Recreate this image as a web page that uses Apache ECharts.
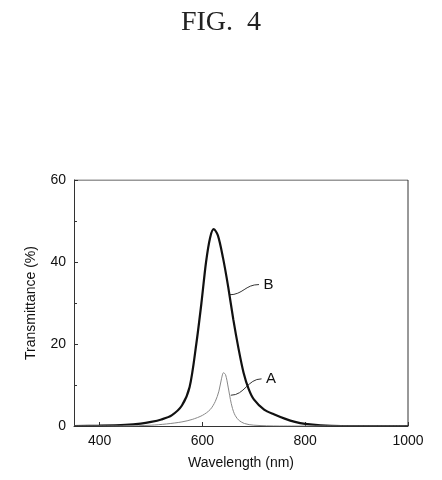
<!DOCTYPE html><html><head><meta charset="utf-8"><script src="https://cdn.jsdelivr.net/npm/echarts@6/dist/echarts.min.js"></script></head><body style="margin:0;background:#fff"><div id="c" style="width:442px;height:480px"></div><script>
const seriesB = [[350,0],[400,0.1],[450,0.3],[480,0.6],[500,1],[520,1.6],[540,2.6],[560,5],[575,9.5],[588,20],[598,30],[607,40],[615,46],[622,48],[630,46.5],[640,41],[650,34],[660,26],[670,19],[680,13],[690,9],[700,6.5],[720,4],[740,2.8],[760,1.8],[780,1],[800,0.5],[830,0.15],[870,0],[1000,0]];
const seriesA = [[350,0],[450,0],[500,0.2],[530,0.5],[560,1],[580,1.6],[600,2.6],[615,4],[625,6],[632,8.5],[637,11.5],[641,13],[645,12.5],[650,9.5],[656,5.5],[662,3],[670,1.5],[682,0.6],[700,0.2],[750,0],[1000,0]];
const xTicks=[400,600,800,1000], yTicks=[0,20,40,60];
const ch=echarts.init(document.getElementById('c'));
const font='"Liberation Sans", Arial, sans-serif';
ch.setOption({animation:false,
title:{text:'FIG.  4',left:'center',top:4,textStyle:{fontFamily:'"Liberation Serif",serif',fontWeight:'normal',fontSize:28,color:'#222'}},
grid:{left:74,right:34,top:180,bottom:54},
xAxis:{type:'value',min:350,max:1000,interval:200,
 axisLabel:{fontFamily:font,fontSize:14,color:'#111',customValues:xTicks,formatter:v=>String(v)},
 axisTick:{inside:true,length:4,customValues:xTicks,lineStyle:{color:'#333'}},
 axisLine:{lineStyle:{color:'#333'}},splitLine:{show:false},
 name:'Wavelength (nm)',nameLocation:'middle',nameGap:30,nameTextStyle:{fontFamily:font,fontSize:14,color:'#111'}},
yAxis:{type:'value',min:0,max:60,interval:20,
 axisLabel:{fontFamily:font,fontSize:14,color:'#111'},
 axisTick:{inside:true,length:4,lineStyle:{color:'#333'}},minorTick:{show:true,splitNumber:2,length:3},
 axisLine:{show:true,lineStyle:{color:'#333'}},splitLine:{show:false},
 name:'Transmittance (%)',nameLocation:'middle',nameGap:36,nameTextStyle:{fontFamily:font,fontSize:14,color:'#111'}},
series:[
 {type:'line',data:seriesB,smooth:0.3,symbol:'none',lineStyle:{color:'#111',width:2.2}},
 {type:'line',data:seriesA,smooth:0.3,symbol:'none',lineStyle:{color:'#888',width:1}},
 {type:'line',data:[[350,60],[1000,60]],symbol:'none',lineStyle:{color:'#333',width:1},silent:true},
 {type:'line',data:[[1000,0],[1000,60]],symbol:'none',lineStyle:{color:'#333',width:1},silent:true}
]});
function p(x,y){return ch.convertToPixel({gridIndex:0},[x,y]);}
const b0=p(652,32),b1=p(710,34.5),bl=p(715,34.5),a0=p(655,7.5),a1=p(715,11.5),al=p(720,11.5);
ch.setOption({graphic:[
 {type:'bezierCurve',shape:{x1:b0[0],y1:b0[1],cpx1:b0[0]+14,cpy1:b0[1],cpx2:b1[0]-14,cpy2:b1[1],x2:b1[0],y2:b1[1]},style:{stroke:'#333',lineWidth:1,fill:null}},
 {type:'text',x:bl[0]+2,y:bl[1],style:{text:'B',font:'15px '+font,fill:'#111',textVerticalAlign:'middle'}},
 {type:'bezierCurve',shape:{x1:a0[0],y1:a0[1],cpx1:a0[0]+14,cpy1:a0[1],cpx2:a1[0]-14,cpy2:a1[1],x2:a1[0],y2:a1[1]},style:{stroke:'#333',lineWidth:1,fill:null}},
 {type:'text',x:al[0]+2,y:al[1],style:{text:'A',font:'15px '+font,fill:'#111',textVerticalAlign:'middle'}}
]});
</script></body></html>
